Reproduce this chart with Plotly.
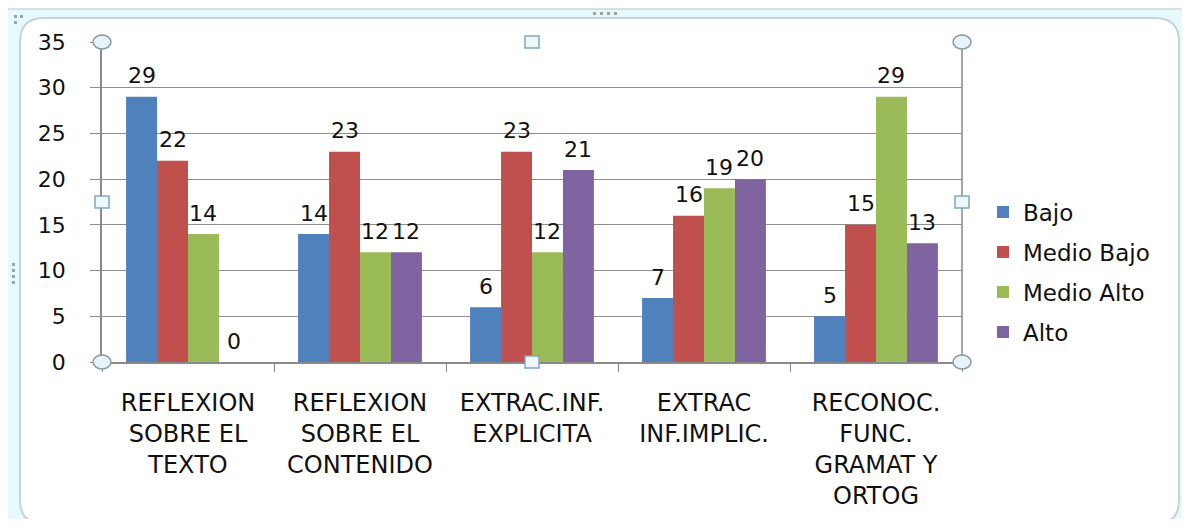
import plotly.graph_objects as go

categories = ["REFLEXION<br>SOBRE EL<br>TEXTO", "REFLEXION<br>SOBRE EL<br>CONTENIDO",
              "EXTRAC.INF.<br>EXPLICITA", "EXTRAC<br>INF.IMPLIC.",
              "RECONOC.<br>FUNC.<br>GRAMAT Y<br>ORTOG"]
bajo = [29, 14, 6, 7, 5]
medio_bajo = [22, 23, 23, 16, 15]
medio_alto = [14, 12, 12, 19, 29]
alto = [0, 12, 21, 20, 13]

series_names = ["Bajo", "Medio Bajo", "Medio Alto", "Alto"]
series_values = [bajo, medio_bajo, medio_alto, alto]
series_colors = ["#4F81BD", "#C0504D", "#9BBB59", "#8064A2"]

FONT = "DejaVu Sans"
FS = 22

# page geometry (browser body has an 8px margin)
OFF = 8
W, H = 1174, 511
L, R, T, B = 102, 962, 42, 362          # plot area in page pixels
BARGAP = 0.28

def px(x): return (x - L) / (R - L)
def py(y): return (B - y) / (B - T)

fig = go.Figure()
legend_names = ["legend", "legend2", "legend3", "legend4"]
for name, vals, col, lg in zip(series_names, series_values, series_colors, legend_names):
    fig.add_trace(go.Bar(x=categories, y=vals, name=name, marker_color=col,
                         marker_line_width=0, legend=lg, showlegend=True))

# data labels above bars
cat_w = (R - L) / len(categories)
bar_w = cat_w * (1 - BARGAP) / len(series_names)
annotations = []
for i, vals in enumerate(series_values):
    for j, v in enumerate(vals):
        annotations.append(dict(x=categories[j], y=v, xref="x", yref="y", text=str(v),
                                showarrow=False, xshift=(i - 1.5) * bar_w, yshift=21,
                                font=dict(family=FONT, size=FS, color="#111")))

shapes = []
# outer frame band
shapes.append(dict(type="rect", xref="paper", yref="paper", x0=px(7), x1=px(1189), y0=py(9), y1=py(527),
                   line=dict(color="#c9d9dd", width=1.5), fillcolor="#e8f9fb", layer="below"))
# inner rounded white panel
x0, x1, y0, y1, r = 20, 1179, 18, 524, 24
path = (f"M {px(x0+r)},{py(y0)} L {px(x1-r)},{py(y0)} Q {px(x1)},{py(y0)} {px(x1)},{py(y0+r)} "
        f"L {px(x1)},{py(y1-r)} Q {px(x1)},{py(y1)} {px(x1-r)},{py(y1)} "
        f"L {px(x0+r)},{py(y1)} Q {px(x0)},{py(y1)} {px(x0)},{py(y1-r)} "
        f"L {px(x0)},{py(y0+r)} Q {px(x0)},{py(y0)} {px(x0+r)},{py(y0)} Z")
shapes.append(dict(type="path", xref="paper", yref="paper", path=path, fillcolor="white",
                   line=dict(color="#c4d4d8", width=2), layer="below"))
# grip dots
for gx in [593, 600, 607, 614]:
    shapes.append(dict(type="rect", xref="paper", yref="paper", x0=px(gx), x1=px(gx + 3),
                       y0=py(12), y1=py(15), line=dict(width=0), fillcolor="#9aa4a8", layer="below"))
for gy in [263, 269, 275, 281]:
    shapes.append(dict(type="rect", xref="paper", yref="paper", x0=px(12), x1=px(15),
                       y0=py(gy), y1=py(gy + 3), line=dict(width=0), fillcolor="#9aa4a8", layer="below"))
for gx, gy in [(14, 15), (20, 15), (14, 21)]:
    shapes.append(dict(type="rect", xref="paper", yref="paper", x0=px(gx), x1=px(gx + 3),
                       y0=py(gy), y1=py(gy + 3), line=dict(width=0), fillcolor="#9aa4a8", layer="below"))
# right border of plot frame
shapes.append(dict(type="line", xref="paper", yref="paper", x0=1, x1=1, y0=0, y1=1,
                   line=dict(color="#8a8a8a", width=1.5)))
# selection handles
for hx, hy in [(0, 0), (0, 1), (1, 0), (1, 1)]:
    shapes.append(dict(type="circle", xref="paper", yref="paper", xsizemode="pixel", ysizemode="pixel",
                       xanchor=hx, yanchor=hy, x0=-9, x1=9, y0=-7, y1=7,
                       fillcolor="#e6f4f8", line=dict(color="#8a9aa0", width=1.5)))
for hx, hy in [(0.5, 0), (0.5, 1), (0, 0.5), (1, 0.5)]:
    shapes.append(dict(type="rect", xref="paper", yref="paper", xsizemode="pixel", ysizemode="pixel",
                       xanchor=hx, yanchor=hy, x0=-7, x1=7, y0=-6, y1=6,
                       fillcolor="#eef8fb", line=dict(color="#7fa8c0", width=1.5)))

legend_y = [212, 252, 292, 332]
legend_cfg = {}
for lg, ly in zip(legend_names, legend_y):
    legend_cfg[lg] = dict(x=px(983), y=py(ly), xanchor="left", yanchor="middle",
                          font=dict(family=FONT, size=23, color="#111"), bgcolor="rgba(0,0,0,0)",
                          itemwidth=30)

fig.update_layout(
    width=W, height=H, paper_bgcolor="white", plot_bgcolor="white",
    margin=dict(l=L - OFF, r=(OFF + W) - R, t=T - OFF, b=(OFF + H) - B, pad=0),
    font=dict(family=FONT, size=FS, color="#111"),
    barmode="group", bargap=BARGAP, bargroupgap=0, showlegend=True,
    shapes=shapes, annotations=annotations,
    xaxis=dict(showline=True, linecolor="#8a8a8a", linewidth=1.5, ticks="outside",
               tickson="boundaries", ticklen=8, tickcolor="#8a8a8a", showgrid=False,
               tickfont=dict(size=24), ticklabelstandoff=18, automargin=False),
    yaxis=dict(range=[0, 35], dtick=5, showline=True, linecolor="#8a8a8a", linewidth=1.5,
               gridcolor="#8f8f8f", gridwidth=1.2, ticks="outside", ticklen=10,
               tickcolor="#8a8a8a", tickfont=dict(size=22), ticklabelstandoff=20,
               zeroline=False, automargin=False),
    **legend_cfg,
)
fig.write_html("out.html")
